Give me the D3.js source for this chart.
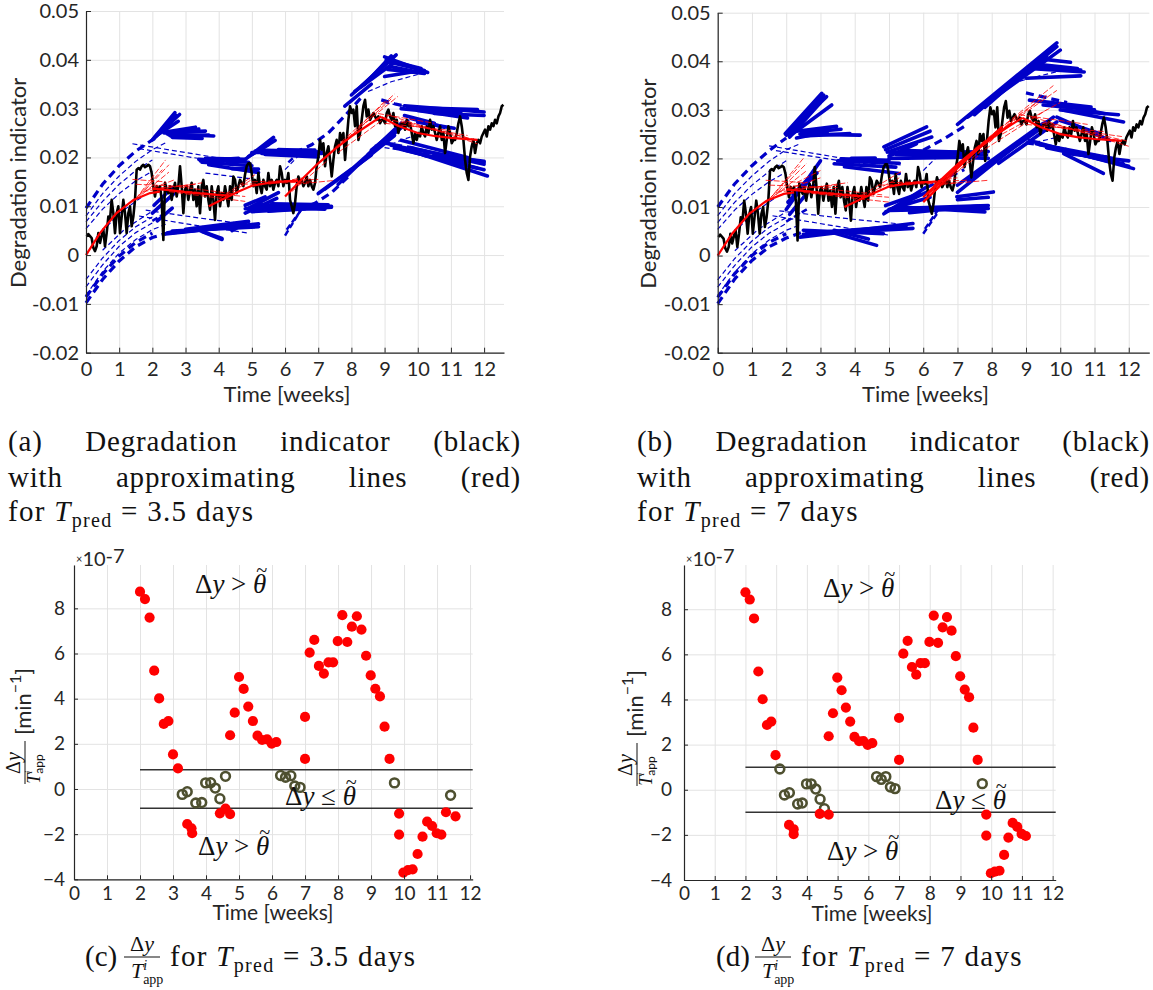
<!DOCTYPE html>
<html><head><meta charset="utf-8">
<script src="https://cdn.jsdelivr.net/npm/d3@7"></script>
<style>body{margin:0;background:#fff}</style>
</head><body>
<svg id="fig" width="1153" height="990"></svg>
<script>
// ---------------- data ----------------
// degradation indicator, one sample every indicatorStep weeks (values ×1e-3)
const indicatorStart = 0.02;
const indicatorStep = 0.05025;
const indicatorMilli = [
 3.8,4.3,3.9,3.5,1.5,0.8,1.8,4.5,2.5,4.0,
 5.2,1.8,4.5,7.9,7.2,11.3,8.6,4.5,8.6,10.0,
 4.5,7.9,11.3,8.6,4.5,8.6,10.0,5.9,7.9,11.3,
 17.5,17.8,17.5,18.2,18.5,18.0,18.2,18.5,18.2,16.8,
 14.1,12.0,14.1,13.4,14.1,11.3,3.1,14.8,13.4,12.7,
 14.1,11.3,13.4,14.8,12.0,14.1,18.2,14.1,8.6,13.4,
 14.1,11.3,13.4,14.8,11.3,13.4,10.0,14.1,8.6,14.1,
 15.4,12.0,14.1,11.3,9.3,14.1,11.3,7.2,12.7,14.1,
 10.0,12.7,11.3,14.1,12.0,10.0,14.1,11.3,16.1,15.4,
 12.7,14.1,15.4,14.8,14.1,16.5,18.2,18.8,18.8,16.8,
 14.1,15.4,12.7,16.8,14.1,12.7,15.4,14.1,13.4,16.8,
 14.1,15.4,13.4,14.8,15.4,14.1,18.2,16.8,14.1,15.4,
 14.8,16.8,11.3,10.0,8.6,10.7,14.1,16.1,14.8,15.4,
 14.1,14.8,16.1,14.1,15.4,14.1,13.4,14.8,18.2,20.2,
 23.6,21.6,22.9,18.2,20.9,22.3,19.5,16.1,19.5,22.3,
 23.6,20.9,25.0,23.6,25.0,19.5,23.6,27.7,30.5,29.1,
 29.8,26.4,30.5,23.6,25.0,27.7,30.5,31.8,28.4,29.8,
 27.7,28.4,29.1,28.4,27.7,28.4,27.0,27.7,27.7,27.0,
 29.1,29.8,28.4,27.7,29.1,26.4,27.7,25.0,26.4,27.0,
 27.0,25.7,27.7,26.4,27.0,25.0,22.9,25.0,23.6,25.0,
 24.3,26.4,25.0,24.3,26.4,25.0,27.7,25.7,26.4,25.0,
 23.6,25.0,26.4,23.6,25.0,20.9,23.6,26.4,25.0,22.9,
 23.6,23.6,25.0,27.0,28.4,26.4,23.6,19.5,16.8,15.4,
 20.2,22.3,23.6,20.9,22.9,23.6,22.9,24.3,25.0,25.7,
 24.3,26.4,25.7,27.0,26.4,27.7,27.0,28.4,29.1,30.5,
 30.8
];

// fitted approximating curves (weeks, ×1e-3)
const redMain = [
 [[0,0],[0.42,4.5],[0.92,8.6],[1.43,11.3],[1.93,12.7],[2.23,13.0]],
 [[2.0,13.6],[2.5,13.3],[3.0,12.9],[3.5,12.6],[4.0,12.3],[4.3,12.2]],
 [[3.7,10.0],[4.2,11.7],[4.6,13.0],[5.0,14.2],[5.5,14.8],[6.0,15.1],[6.4,15.2]],
 [[6.0,12.0],[6.5,15.5],[7.0,18.8],[7.5,21.7],[8.0,24.3],[8.5,26.6],[8.9,28.4]],
 [[8.9,28.3],[9.4,26.5],[10.0,25.0],[10.5,24.4],[11.0,24.0],[11.8,23.6]]
];
const redExtraB = [
 [[6.0,11.0],[7.0,18.0],[8.3,26.5]],
 [[6.1,12.5],[7.2,19.8],[8.6,27.3]]
];

// individual approximating lines [t0, y0, t1, y1]
const redThinA = [
 [1.5,11.5,2.4,19.5],[1.6,12.0,2.5,18.5],[1.7,12.5,2.5,17.0],[1.4,10.8,2.3,17.5],[1.8,13.2,2.7,15.5],
 [1.4,15.5,2.4,15.0],[1.5,14.5,3.2,14.0],[1.7,13.0,3.5,14.8],[2.0,13.6,3.3,14.5],
 [2.3,13.5,4.8,12.0],[2.5,13.0,4.8,11.0],[2.8,14.0,4.5,12.5],
 [4.0,11.5,5.1,16.5],[4.2,12.0,5.0,15.5],
 [4.7,14.5,6.8,15.0],[5.0,15.0,7.0,15.5],[5.5,14.5,6.5,15.8],
 [6.3,14.5,7.5,15.3],[6.2,13.0,7.3,19.5],
 [7.5,22.0,9.3,33.0],[7.7,23.0,9.4,32.5],[8.0,24.5,9.2,32.0],[8.2,26.0,9.0,31.5],[7.6,21.0,9.2,29.0],
 [8.8,29.0,10.5,27.0],[9.0,28.0,11.5,24.0],[9.2,28.5,11.8,22.8],[9.5,27.5,11.8,23.5],[9.0,27.0,11.0,25.5],[9.8,26.5,11.5,24.5]
];
const redThinB = [
 [1.5,11.5,2.5,20.0],[1.6,12.0,2.6,19.0],[1.7,12.5,2.6,17.5],[1.4,10.8,2.4,18.5],[1.8,13.2,3.0,16.0],
 [1.4,15.5,2.6,15.0],[1.5,14.5,3.5,14.0],[1.7,13.0,3.8,15.0],[2.0,13.6,3.5,14.5],[2.3,15.0,3.0,17.5],
 [2.3,13.5,5.0,12.0],[2.5,13.0,5.0,11.0],[2.8,14.0,4.8,12.5],
 [4.0,11.5,5.4,17.5],[4.2,12.0,5.3,16.0],
 [4.7,14.5,7.0,15.0],[5.0,15.0,7.3,15.5],[5.5,14.5,7.0,16.0],
 [6.3,14.5,7.9,15.5],[6.2,13.0,7.6,20.5],[6.2,12.2,8.2,25.0],
 [7.5,22.0,9.8,35.0],[7.7,23.0,9.9,34.0],[8.0,24.5,9.6,33.0],[8.2,26.0,9.4,32.0],[7.6,21.0,9.6,30.0],[8.3,25.0,10.0,31.5],
 [8.8,29.0,10.8,27.0],[9.0,28.0,11.8,23.5],[9.2,28.5,12.0,22.5],[9.5,27.5,12.0,23.5],[9.0,27.0,11.3,25.5],[9.8,26.5,11.8,24.5]
];

// prediction bounds: dashed envelopes (polylines) and extrapolated bound lines
const boundCurvesA = [
 [[0,9.6],[0.5,14.5],[1,18.3],[1.5,21.3],[2.0,23.6],[2.2,24.3]],
 [[0,-9.8],[0.5,-5.0],[1,-1.2],[1.5,1.7],[2.0,3.6],[2.5,4.6]],
 [[0,-8.6],[0.5,-3.9],[1,-0.2],[1.5,2.6],[2.0,4.5]],
 [[6.3,21.0],[6.8,22.6],[7.3,25.0],[7.8,28.5],[8.3,32.3]],
 [[6.4,9.3],[6.9,10.6],[7.4,12.8],[7.9,16.0]],
 [[8.9,31.8],[9.3,31.0],[9.8,30.2],[10.3,29.5]],
 [[8.9,23.0],[9.3,22.6],[9.8,22.0],[10.3,21.2]]
];
const boundThinA = [
 [[0,8.0],[0.5,12.6],[1,16.2],[1.5,19.2],[2.0,21.6],[2.4,23.0]],
 [[0,6.8],[0.5,11.0],[1,14.5],[1.5,17.3],[2.0,19.5]],
 [[0,5.4],[0.5,9.4],[1,12.6],[1.5,15.2],[2.0,17.2]],
 [[0,-8.2],[0.5,-3.4],[1,0.4],[1.5,3.2],[2.0,5.2],[2.4,6.3]],
 [[0,-6.5],[0.5,-2.0],[1,1.8],[1.5,4.6],[2.0,6.6]],
 [[0,-5.0],[0.5,-0.6],[1,3.0],[1.5,5.8],[2.0,7.8]],
 [[0.3,3.5],[1.0,8.5],[1.7,12.0]],
 [[0.5,1.0],[1.2,5.5],[2.0,9.0]],
 [[1.4,22.8],[3.0,21.0],[5.0,18.8]],
 [[1.6,21.8],[3.2,20.0],[4.8,18.4]],
 [[1.6,8.0],[3.2,6.2],[4.9,4.5]],
 [[1.8,9.2],[3.4,7.6],[5.0,6.2]],
 [[3.6,16.8],[5.0,15.6]],
 [[6.0,17.5],[6.5,21.0]],
 [[8.5,33.5],[9.2,35.5],[10.0,37.0]],
 [[8.7,22.5],[9.3,23.0],[9.9,24.5]],
 [[9.0,31.2],[10.0,30.0],[11.2,29.2]],
 [[9.0,22.0],[10.0,21.0],[11.0,20.2]]
];
const boundDashA = [[6.0,4.0,6.5,9.5],[6.05,5.2,6.6,10.3],[6.1,19.0,6.5,21.5],[2.0,7.0,2.6,9.5]];
const boundLinesA = [
 [2.0,23.6,2.68,29.2],[2.08,24.2,2.82,28.8],[2.15,24.6,2.78,27.4],[2.05,23.9,2.72,28.6],[2.12,24.4,2.6,28.0],
 [2.4,25.2,3.3,26.2],[2.45,24.8,3.85,24.4],[2.55,24.4,3.7,24.6],[2.6,24.1,3.5,23.9],[2.35,25.0,3.6,25.4],[2.5,24.6,3.4,25.8],
 [2.0,8.6,2.65,12.6],[2.05,10.2,2.6,13.8],[2.15,7.0,2.6,9.6],
 [2.4,4.3,5.2,6.4],[2.5,4.6,4.6,6.2],[2.6,4.9,5.2,5.8],[3.4,5.1,4.1,3.4],[3.5,4.8,4.1,3.2],[3.0,5.3,4.9,6.9],
 [2.45,4.5,4.8,6.0],[2.7,4.7,5.0,6.2],
 [3.4,19.6,4.9,19.0],[3.5,19.0,5.0,18.3],[3.7,18.5,5.2,16.9],[4.4,17.7,5.2,17.6],[3.45,19.3,4.6,19.8],[3.6,19.8,4.8,19.6],
 [4.8,19.6,5.65,24.1],[4.9,20.2,5.7,23.5],[5.0,20.6,5.5,22.6],
 [4.8,8.6,5.75,11.6],[4.9,9.6,5.8,12.8],[4.8,10.2,5.4,11.9],
 [5.0,21.0,7.0,21.0],[5.2,21.5,7.1,21.1],[5.4,20.6,7.0,20.1],[5.8,21.6,6.8,21.4],[5.1,21.3,6.9,21.5],[5.3,20.8,7.0,20.6],[6.0,21.2,7.1,20.8],
 [4.8,9.5,7.4,10.0],[5.2,10.3,7.0,10.1],[5.5,9.0,7.4,9.8],[5.0,8.9,6.6,9.5],[5.1,9.8,7.2,9.4],[5.6,10.5,7.3,10.3],
 [8.0,32.8,9.25,40.5],[8.3,34.5,9.35,41.0],[8.6,36.2,9.1,40.0],[7.8,30.5,8.6,35.0],[8.1,33.5,9.3,39.5],[8.4,35.0,9.2,40.8],
 [9.0,40.6,10.3,37.4],[9.1,39.6,10.2,37.8],[9.2,38.6,10.0,37.5],[9.0,36.6,10.1,37.8],[9.05,40.0,10.1,38.2],[9.1,38.0,10.2,37.2],
 [7.0,12.6,8.0,17.6],[7.6,14.5,8.4,19.8],[8.0,17.5,9.4,26.0],[8.5,20.6,9.5,27.0],[8.8,22.2,9.6,26.6],
 [7.2,13.5,8.6,20.5],[8.2,18.5,9.3,24.5],[8.6,21.5,9.7,27.5],
 [9.5,30.0,11.0,29.0],[9.6,30.6,12.0,29.3],[10.0,29.6,11.5,28.1],[10.5,29.0,12.0,28.6],[9.7,30.2,11.8,29.8],[10.2,29.8,11.3,29.3],
 [9.8,28.0,10.8,26.2],[10.0,27.2,11.1,26.0],[9.6,28.6,10.5,27.0],
 [9.1,22.9,12.1,16.2],[9.2,22.5,12.0,19.0],[9.5,23.5,11.5,20.0],[9.8,22.0,12.0,18.6],[10.2,20.4,11.5,19.0],
 [9.3,22.0,11.8,17.8],[9.6,21.5,12.0,17.5],[10.5,20.5,12.0,19.2],
 [4.4,5.0,4.8,6.6]
];

const boundCurvesB = [
 [[0,10.0],[0.5,14.8],[1,18.5],[1.5,21.6],[2.0,24.2]],
 [[0,-9.9],[0.5,-4.8],[1,-1.0],[1.5,1.8],[2.0,3.6],[2.5,4.9]],
 [[0,-8.6],[0.5,-3.7],[1,0.0],[1.5,2.7],[2.0,4.5]],
 [[6.0,21.7],[6.6,24.0],[7.2,26.6]],
 [[6.1,14.0],[6.6,15.8],[7.2,17.7]],
 [[9.0,33.5],[9.6,32.5],[10.2,31.5]],
 [[9.0,23.2],[9.6,22.6],[10.2,21.8]]
];
const boundThinB = [
 [[0,8.2],[0.5,12.8],[1,16.4],[1.5,19.4],[2.0,21.8],[2.4,23.0]],
 [[0,6.8],[0.5,11.0],[1,14.5],[1.5,17.3],[2.0,19.5]],
 [[0,5.4],[0.5,9.4],[1,12.6],[1.5,15.2],[2.0,17.2]],
 [[0,-8.2],[0.5,-3.4],[1,0.4],[1.5,3.2],[2.0,5.2],[2.4,6.3]],
 [[0,-6.5],[0.5,-2.0],[1,1.8],[1.5,4.6],[2.0,6.6]],
 [[0,-5.0],[0.5,-0.6],[1,3.0],[1.5,5.8],[2.0,7.8]],
 [[0.3,3.5],[1.0,8.5],[1.7,12.0]],
 [[0.5,1.0],[1.2,5.5],[2.0,9.0]],
 [[1.5,22.6],[3.5,20.2],[5.4,18.6]],
 [[1.7,21.6],[3.5,19.6],[4.9,18.4]],
 [[1.6,8.2],[3.5,6.0],[5.0,4.2]],
 [[1.8,9.2],[3.5,7.8],[5.2,6.6]],
 [[6.0,17.5],[6.5,21.0]],
 [[8.6,35.5],[9.4,37.0],[10.3,38.5]],
 [[8.8,23.5],[9.4,23.5],[10.0,24.5]],
 [[9.6,22.0],[10.6,21.2],[11.4,20.5]]
];
const boundDashB = [[6.0,4.5,6.4,8.6],[6.05,5.5,6.45,9.6],[2.0,7.0,2.6,9.5]];
const boundLinesB = [
 [1.97,25.1,3.04,33.4],[2.0,24.8,3.18,32.7],[2.1,24.6,3.33,31.0],[2.1,24.4,3.0,31.5],[2.05,24.9,3.1,33.0],
 [2.3,25.6,3.47,26.6],[2.4,25.0,4.16,24.8],[2.5,24.6,3.86,25.1],[2.3,24.2,3.2,25.5],[2.45,25.3,3.6,26.0],
 [2.0,9.5,3.0,19.5],[2.05,11.0,2.9,17.0],[2.1,8.5,2.8,14.5],[2.2,12.5,2.6,15.5],
 [2.4,3.8,5.7,6.6],[2.5,4.4,5.7,5.6],[3.28,4.9,4.64,2.1],[2.5,5.2,4.84,4.5],[3.4,5.2,4.4,3.4],[2.6,4.6,5.5,6.1],
 [3.5,19.5,5.3,19.0],[3.7,18.3,5.3,16.9],[3.9,20.0,4.6,20.1],[3.4,18.9,5.2,18.2],[3.6,19.9,5.0,19.6],
 [4.85,22.4,6.1,26.5],[4.95,21.3,6.25,24.4],[5.0,20.5,5.8,23.0],[4.9,21.8,6.2,25.6],
 [4.85,8.6,6.1,14.1],[5.0,9.5,6.2,12.0],[4.9,10.3,5.9,12.8],[4.9,9.0,6.15,13.2],
 [5.0,21.3,7.85,20.7],[5.2,20.8,7.9,20.0],[5.5,21.6,7.5,21.2],[5.0,20.0,7.0,20.2],[5.3,21.0,7.9,21.4],
 [5.0,9.3,7.9,9.7],[5.3,10.0,7.8,9.0],[5.6,8.8,7.6,10.2],[6.98,12.1,8.05,13.1],[7.0,11.5,7.9,12.0],[5.2,9.7,7.9,10.3],
 [7.0,27.0,9.9,43.8],[7.3,28.5,10.0,42.3],[7.8,30.5,9.8,43.0],[8.5,35.0,9.9,43.0],[8.0,32.0,9.6,41.0],[7.5,29.0,9.7,42.5],
 [9.1,38.5,10.7,37.8],[9.2,39.5,10.5,38.5],[9.4,40.5,10.3,39.8],[9.0,36.5,10.6,37.0],[9.3,39.0,10.6,38.2],
 [7.0,14.5,9.5,27.2],[7.3,15.5,9.6,27.5],[7.6,17.0,9.8,28.5],[8.2,19.0,9.9,27.5],[7.0,13.0,9.2,25.5],[7.4,16.0,9.4,26.0],
 [9.9,31.3,11.3,29.2],[10.1,29.9,11.85,27.5],[9.1,32.0,10.9,30.6],[10.0,30.0,11.7,29.0],[9.5,31.0,11.0,30.0],
 [9.9,28.5,11.45,23.7],[10.0,27.8,11.16,25.1],
 [9.1,23.7,12.14,17.9],[9.6,22.2,11.84,18.9],[9.4,22.9,11.55,20.0],[10.1,21.0,11.26,16.9],[10.2,21.0,12.0,19.5],[9.3,23.0,12.0,18.4]
];

// Δy / T_app per day (×1e-7 min^-1)
const timesC = [2.00,2.15,2.29,2.43,2.58,2.72,2.86,3.00,3.15,3.28,3.43,3.43,3.56,3.58,3.69,3.87,3.99,4.14,4.28,4.42,4.42,4.59,4.59,4.73,4.73,4.87,5.00,5.14,5.28,5.42,5.56,5.70,5.85,5.99,6.13,6.26,6.41,6.57,6.69,6.85,7.00,7.00,7.14,7.28,7.42,7.57,7.71,7.85,7.99,8.13,8.28,8.42,8.57,8.71,8.85,8.99,9.13,9.27,9.41,9.56,9.71,9.85,9.85,9.98,10.12,10.26,10.41,10.56,10.70,10.85,10.99,11.13,11.27,11.41,11.56];
const valuesC = [8.74,8.41,7.59,5.24,4.01,2.88,3.01,1.53,0.91,-0.24,-0.12,-1.55,-1.74,-1.96,-0.62,-0.60,0.27,0.28,0.04,-0.43,-1.08,0.56,-0.87,-1.11,2.38,3.38,4.96,4.43,3.65,3.01,2.36,2.17,2.20,2.01,2.08,0.60,0.52,0.59,0.13,0.07,3.19,1.33,6.04,6.60,5.45,5.11,5.61,5.61,6.55,7.70,6.51,7.19,7.65,7.06,5.90,5.03,4.44,4.10,2.76,1.33,0.27,-1.09,-2.02,-3.70,-3.59,-3.56,-2.88,-2.11,-1.45,-1.64,-1.96,-2.02,-1.03,-0.28,-1.21];
const thetaC = 0.85;
const timesD = [2.00,2.14,2.28,2.42,2.56,2.70,2.84,2.98,3.12,3.27,3.43,3.42,3.57,3.57,3.70,3.85,3.99,4.14,4.29,4.43,4.42,4.57,4.71,4.71,4.85,4.99,5.13,5.27,5.41,5.55,5.70,5.84,5.98,6.13,6.27,6.42,6.57,6.72,6.87,7.00,7.00,7.14,7.28,7.42,7.56,7.70,7.84,7.99,8.13,8.27,8.42,8.56,8.71,8.85,8.99,9.14,9.28,9.42,9.56,9.71,9.84,9.84,9.99,10.12,10.27,10.42,10.56,10.70,10.85,10.99,11.13];
const valuesD = [8.75,8.43,7.59,5.24,4.01,2.87,3.02,1.53,0.92,-0.23,-0.13,-1.56,-1.75,-1.97,-0.63,-0.59,0.26,0.26,0.03,-0.42,-1.07,-0.84,-1.10,2.37,3.39,4.97,4.41,3.64,3.02,2.34,2.15,2.16,1.99,2.07,0.58,0.46,0.58,0.12,0.05,3.18,1.32,6.03,6.60,5.44,5.10,5.61,5.61,6.55,7.72,6.51,7.20,7.65,7.05,5.92,5.03,4.44,4.10,2.75,1.32,0.27,-1.10,-2.03,-3.70,-3.63,-3.59,-2.89,-2.12,-1.47,-1.65,-1.96,-2.05];
const thetaD = 1.0;

// ticks
const topXTicks = [0,1,2,3,4,5,6,7,8,9,10,11,12];
const topYTicks = [-0.02,-0.01,0,0.01,0.02,0.03,0.04,0.05];
const topYTickLabels = ['-0.02','-0.01','0','0.01','0.02','0.03','0.04','0.05'];
const botXTicks = [0,1,2,3,4,5,6,7,8,9,10,11,12];
const botYTicks = [-4,-2,0,2,4,6,8];

// captions
const captionA = [['(a)','Degradation','indicator','(black)'],['with','approximating','lines','(red)']];
const captionB = [['(b)','Degradation','indicator','(black)'],['with','approximating','lines','(red)']];

// ---------------- drawing ----------------
const SANS = 'Lato, "Open Sans", sans-serif';
const SERIF = '"Liberation Serif", "DejaVu Serif", serif';
const CAP = 29;
const BLUE = '#0000c8', RED = '#ff0000', AXIS = '#262626', GRID = '#e3e3e3';
const svg = d3.select('#fig');

function styleAxis(sel, size) {
  sel.select('.domain').attr('stroke', AXIS).attr('stroke-width', 1.2);
  sel.selectAll('.tick line').attr('stroke', AXIS);
  sel.selectAll('.tick text').attr('fill', '#262626').attr('font-family', SANS).attr('font-size', size);
}

function drawTop(cfg) {
  const g = svg.append('g');
  const x = d3.scaleLinear().domain([0, 12.6]).range([cfg.left, cfg.right]);
  const y = d3.scaleLinear().domain([-0.02, 0.05]).range([cfg.bottom, cfg.top]);
  const ym = v => y(v / 1000);

  // grid
  g.append('g').attr('transform', `translate(0,${cfg.bottom})`)
    .call(d3.axisBottom(x).tickValues(topXTicks).tickSize(-(cfg.bottom - cfg.top)).tickFormat(''))
    .call(s => { s.select('.domain').remove(); s.selectAll('line').attr('stroke', GRID); });
  g.append('g').attr('transform', `translate(${cfg.left},0)`)
    .call(d3.axisLeft(y).tickValues(topYTicks).tickSize(-(cfg.right - cfg.left)).tickFormat(''))
    .call(s => { s.select('.domain').remove(); s.selectAll('line').attr('stroke', GRID); });

  const line = d3.line().x(d => x(d[0])).y(d => ym(d[1]));
  const seg = (sel, data) => sel.selectAll(null).data(data).join('line')
    .attr('x1', d => x(d[0])).attr('y1', d => ym(d[1])).attr('x2', d => x(d[2])).attr('y2', d => ym(d[3]));

  // prediction bounds
  g.append('g').selectAll('path').data(cfg.boundThin).join('path').attr('d', line)
    .attr('fill', 'none').attr('stroke', BLUE).attr('stroke-width', 1.2).attr('stroke-dasharray', '5,3');
  g.append('g').selectAll('path').data(cfg.boundCurves).join('path').attr('d', line)
    .attr('fill', 'none').attr('stroke', BLUE).attr('stroke-width', 3.2).attr('stroke-dasharray', '8,5');
  seg(g.append('g'), cfg.boundDash).attr('stroke', BLUE).attr('stroke-width', 2.5).attr('stroke-dasharray', '6,3');
  seg(g.append('g'), cfg.boundLines).attr('stroke', BLUE).attr('stroke-width', 3.6).attr('stroke-linecap', 'round');

  // degradation indicator
  g.append('path').datum(indicatorMilli)
    .attr('d', d3.line().x((d, i) => x(indicatorStart + i * indicatorStep)).y(d => ym(d)))
    .attr('fill', 'none').attr('stroke', '#000').attr('stroke-width', 2.6).attr('stroke-linejoin', 'round');

  // approximating lines
  seg(g.append('g'), cfg.redThin).attr('stroke', RED).attr('stroke-width', 0.8).attr('stroke-dasharray', '6,2');
  g.append('g').selectAll('path').data(cfg.redMain).join('path').attr('d', line)
    .attr('fill', 'none').attr('stroke', RED).attr('stroke-width', 2.2);

  // axes
  g.append('g').attr('transform', `translate(0,${cfg.bottom})`)
    .call(d3.axisBottom(x).tickValues(topXTicks).tickSizeInner(-5).tickSizeOuter(0).tickPadding(9))
    .call(s => styleAxis(s, 20));
  g.append('g').attr('transform', `translate(${cfg.left},0)`)
    .call(d3.axisLeft(y).tickValues(topYTicks).tickSizeInner(-5).tickSizeOuter(0).tickPadding(7)
      .tickFormat((d, i) => topYTickLabels[i]))
    .call(s => styleAxis(s, 20));

  g.append('text').attr('x', (cfg.left + cfg.right) / 2 - 8).attr('y', cfg.bottom + 49)
    .attr('text-anchor', 'middle').attr('font-family', SANS).attr('font-size', 22).attr('fill', '#262626')
    .text('Time [weeks]');
  g.append('text').attr('transform', `translate(${cfg.ylabX},${(cfg.top + cfg.bottom) / 2 + 1}) rotate(-90)`)
    .attr('text-anchor', 'middle').attr('font-family', SANS).attr('font-size', 22).attr('fill', '#262626')
    .text('Degradation indicator');
}

function relation(g, x, y, rel) {
  const size = 27;
  const t = g.append('text').attr('x', x).attr('y', y).attr('font-family', SERIF)
    .attr('font-size', size).attr('fill', '#111').style('white-space', 'pre');
  t.append('tspan').text('Δ');
  t.append('tspan').attr('font-style', 'italic').text('y');
  t.append('tspan').text(' ' + rel + ' ');
  t.append('tspan').attr('font-style', 'italic').text('θ');
  const n = t.node(), k = n.getNumberOfChars() - 1;
  const s = n.getStartPositionOfChar(k), e = n.getEndPositionOfChar(k);
  g.append('text').attr('x', (s.x + e.x) / 2 + 2).attr('y', y - size * 0.6)
    .attr('text-anchor', 'middle').attr('font-family', SERIF).attr('font-size', size * 0.75).attr('fill', '#111').text('~');
}

function drawBottom(cfg) {
  const g = svg.append('g');
  const x = d3.scaleLinear().domain([0, cfg.xMax]).range([cfg.left, cfg.right]);
  const y = d3.scaleLinear().domain([-4, cfg.yMax]).range([cfg.bottom, cfg.top]);

  g.append('g').attr('transform', `translate(0,${cfg.bottom})`)
    .call(d3.axisBottom(x).tickValues(botXTicks).tickSize(-(cfg.bottom - cfg.top)).tickFormat(''))
    .call(s => { s.select('.domain').remove(); s.selectAll('line').attr('stroke', GRID); });
  g.append('g').attr('transform', `translate(${cfg.left},0)`)
    .call(d3.axisLeft(y).tickValues(botYTicks).tickSize(-(cfg.right - cfg.left)).tickFormat(''))
    .call(s => { s.select('.domain').remove(); s.selectAll('line').attr('stroke', GRID); });

  // thresholds ±θ
  [cfg.theta, -cfg.theta].forEach(v => {
    g.append('line').attr('x1', x(2)).attr('x2', x(cfg.xMax)).attr('y1', y(v)).attr('y2', y(v))
      .attr('stroke', '#333').attr('stroke-width', 1.4);
  });

  const pts = cfg.times.map((t, i) => ({ t, v: cfg.values[i] }));
  g.append('g').selectAll('circle').data(pts.filter(p => Math.abs(p.v) <= cfg.theta)).join('circle')
    .attr('cx', d => x(d.t)).attr('cy', d => y(d.v)).attr('r', 4.4)
    .attr('fill', 'none').attr('stroke', '#4e5030').attr('stroke-width', 2.6);
  g.append('g').selectAll('circle').data(pts.filter(p => Math.abs(p.v) > cfg.theta)).join('circle')
    .attr('cx', d => x(d.t)).attr('cy', d => y(d.v)).attr('r', 5.1).attr('fill', RED);

  g.append('g').attr('transform', `translate(0,${cfg.bottom})`)
    .call(d3.axisBottom(x).tickValues(botXTicks).tickSizeInner(-4).tickSizeOuter(0).tickPadding(7))
    .call(s => styleAxis(s, 19));
  g.append('g').attr('transform', `translate(${cfg.left},0)`)
    .call(d3.axisLeft(y).tickValues(botYTicks).tickSizeInner(-4).tickSizeOuter(0).tickPadding(cfg.yPad))
    .call(s => styleAxis(s, 19));

  // exponent marker
  const ex = g.append('text').attr('x', cfg.left + 2).attr('y', cfg.top + 1).attr('font-family', SANS)
    .attr('fill', '#262626').style('white-space', 'pre');
  ex.append('tspan').attr('font-size', 11).attr('dy', -3).text('×');
  ex.append('tspan').attr('font-size', 20).attr('dy', 3).text('10');
  ex.append('tspan').attr('font-size', 20).attr('dy', -3).text('-7');

  g.append('text').attr('x', cfg.xLabelX).attr('y', cfg.bottom + 41)
    .attr('text-anchor', 'middle').attr('font-family', SANS).attr('font-size', 21).attr('fill', '#262626')
    .text('Time [weeks]');

  // y label: Δy / T^i_app [min^-1]
  const r = g.append('g').attr('transform', `translate(${cfg.ylabX},${cfg.ylabY}) rotate(-90)`);
  const u = r.append('text').attr('x', -8).attr('y', 0).attr('font-family', SANS).attr('font-size', 22)
    .attr('fill', '#262626').style('white-space', 'pre');
  u.append('tspan').text('[min');
  u.append('tspan').attr('font-size', 16).attr('dy', -10).text('−1');
  u.append('tspan').attr('dy', 10).text(']');
  const num = r.append('text').attr('x', -36).attr('y', -11).attr('text-anchor', 'middle')
    .attr('font-family', SERIF).attr('font-size', 20).attr('fill', '#111');
  num.append('tspan').text('Δ');
  num.append('tspan').attr('font-style', 'italic').text('y');
  r.append('line').attr('x1', -57).attr('x2', -14).attr('y1', -6).attr('y2', -6).attr('stroke', '#111').attr('stroke-width', 1);
  const den = r.append('text').attr('x', -42).attr('y', 9).attr('text-anchor', 'middle')
    .attr('font-family', SERIF).attr('font-size', 18).attr('fill', '#111');
  den.append('tspan').attr('font-style', 'italic').text('T');
  den.append('tspan').attr('font-size', 11).attr('font-style', 'italic').attr('dy', -8).text('i');
  den.append('tspan').attr('font-size', 12).attr('font-family', SANS).attr('dx', -3).attr('dy', 11).text('app');

  relation(g, cfg.ann[0][0], cfg.ann[0][1], '>');
  relation(g, cfg.ann[1][0], cfg.ann[1][1], '≤');
  relation(g, cfg.ann[2][0], cfg.ann[2][1], '>');
}

function justify(words, x0, x1, y) {
  const nodes = words.map(w => svg.append('text').attr('y', y).attr('font-family', SERIF)
    .attr('font-size', CAP).attr('letter-spacing', 0.8).attr('fill', '#111').text(w));
  const widths = nodes.map(n => n.node().getComputedTextLength());
  const gap = (x1 - x0 - d3.sum(widths)) / (words.length - 1);
  let cx = x0;
  nodes.forEach((n, i) => { n.attr('x', cx); cx += widths[i] + gap; });
}

function predLine(x, y, days) {
  const t = svg.append('text').attr('x', x).attr('y', y).attr('font-family', SERIF).attr('font-size', CAP)
    .attr('fill', '#111').attr('letter-spacing', 1.3).style('white-space', 'pre');
  t.append('tspan').text('for ');
  t.append('tspan').attr('font-style', 'italic').text('T');
  t.append('tspan').attr('font-size', 20).attr('dy', 6).text('pred');
  t.append('tspan').attr('dy', -6).text(' = ' + days + ' days');
}

function fracCaption(x, y, letter, days) {
  svg.append('text').attr('x', x).attr('y', y).attr('font-family', SERIF).attr('font-size', CAP)
    .attr('fill', '#111').text(letter);
  const cx = x + 57;
  const num = svg.append('text').attr('x', cx).attr('y', y - 15).attr('text-anchor', 'middle')
    .attr('font-family', SERIF).attr('font-size', 22).attr('fill', '#111');
  num.append('tspan').text('Δ');
  num.append('tspan').attr('font-style', 'italic').text('y');
  svg.append('line').attr('x1', cx - 18).attr('x2', cx + 18).attr('y1', y - 9).attr('y2', y - 9)
    .attr('stroke', '#111').attr('stroke-width', 1.1);
  const den = svg.append('text').attr('x', cx - 11).attr('y', y + 12).attr('font-family', SERIF)
    .attr('font-size', 22).attr('fill', '#111');
  den.append('tspan').attr('font-style', 'italic').text('T');
  den.append('tspan').attr('font-size', 14).attr('font-style', 'italic').attr('dy', -8).text('i');
  den.append('tspan').attr('font-size', 14).attr('dx', -4).attr('dy', 14).text('app');
  predLine(x + 85, y, days);
}

drawTop({ left: 86, right: 504, top: 11, bottom: 352.7, ylabX: 26,
  boundCurves: boundCurvesA, boundThin: boundThinA, boundDash: boundDashA, boundLines: boundLinesA,
  redThin: redThinA, redMain: redMain });
drawTop({ left: 717.7, right: 1149.3, top: 12.7, bottom: 352.7, ylabX: 656,
  boundCurves: boundCurvesB, boundThin: boundThinB, boundDash: boundDashB, boundLines: boundLinesB,
  redThin: redThinB, redMain: redMain.concat(redExtraB) });

drawBottom({ left: 74, right: 472.7, top: 565, bottom: 879.3, xMax: 12.08, yMax: 9.92, yPad: 9,
  times: timesC, values: valuesC, theta: thetaC, xLabelX: 273, ylabX: 31, ylabY: 727,
  ann: [[195, 593], [285, 805], [198, 855]] });
drawBottom({ left: 684, right: 1055.7, top: 565, bottom: 880, xMax: 12.1, yMax: 9.96, yPad: 12,
  times: timesD, values: valuesD, theta: thetaD, xLabelX: 872, ylabX: 643, ylabY: 729,
  ann: [[823, 597], [935, 809], [827, 860]] });

justify(captionA[0], 8, 521, 451);
justify(captionA[1], 8, 521, 487);
predLine(8, 521, '3.5');
justify(captionB[0], 637, 1150, 451);
justify(captionB[1], 637, 1150, 487);
predLine(637, 521, '7');

fracCaption(85, 966, '(c)', '3.5');
fracCaption(716, 966, '(d)', '7');
</script>
</body></html>
